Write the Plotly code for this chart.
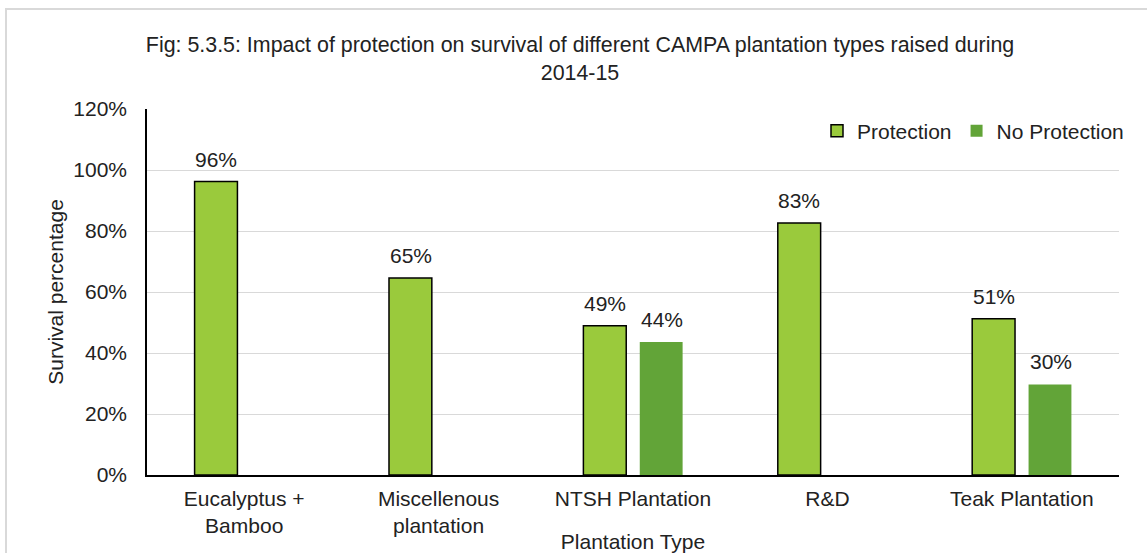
import plotly.graph_objects as go

categories = ["Eucalyptus +<br>Bamboo", "Miscellenous<br>plantation", "NTSH Plantation", "R&D", "Teak Plantation"]
protection = [96.2, 64.6, 48.9, 82.6, 51.2]
no_protection = [None, None, 43.6, None, 29.7]
y_ticks = [0, 20, 40, 60, 80, 100, 120]
y_tick_labels = ["0%", "20%", "40%", "60%", "80%", "100%", "120%"]

W, H = 1147, 553
L, R, T, B = 147, 28, 109, 78
pw, ph = W - L - R, H - T - B

font = "Liberation Sans, Arial, sans-serif"
FS = 21

fig = go.Figure()
fig.add_trace(go.Bar(
    name="Protection", x=categories, y=protection,
    marker=dict(color="#9ACA3C", line=dict(color="#000000", width=1.5)),
))
fig.add_trace(go.Bar(
    name="No Protection", x=categories, y=no_protection,
    marker=dict(color="#62A438", line=dict(width=0)),
))

annotations = []
for series, shift in ((protection, -28), (no_protection, 29)):
    for cat, v in zip(categories, series):
        if v is None:
            continue
        annotations.append(dict(
            x=cat, y=v, xref="x", yref="y", text=f"{v:.0f}%", showarrow=False,
            xanchor="center", yanchor="bottom", xshift=shift, yshift=9,
            font=dict(size=FS, color="#222222"),
        ))

fig.update_layout(
    width=W, height=H,
    margin=dict(l=L, r=R, t=T, b=B, autoexpand=False),
    paper_bgcolor="white", plot_bgcolor="white",
    barmode="group", bargap=0.42, bargroupgap=0.24,
    font=dict(family=font, size=FS, color="#222222"),
    title=dict(
        text="Fig: 5.3.5: Impact of protection on survival of different CAMPA plantation types raised during<br>2014-15",
        x=580 / W, xanchor="center", y=1 - 52 / H, yanchor="top", automargin=False,
        font=dict(size=21.4, color="#222222"),
    ),
    legend=dict(orientation="h", x=1.0 + 10 / pw, xanchor="right", y=(475 - 131) / ph, yanchor="middle",
                font=dict(size=FS), bgcolor="rgba(0,0,0,0)", traceorder="normal",
                itemwidth=30, entrywidthmode="pixels"),
    showlegend=True,
    annotations=annotations,
    shapes=[dict(type="rect", xref="paper", yref="paper",
                 x0=(6 - L) / pw, x1=(1160 - L) / pw, y0=(475 - 600) / ph, y1=(475 - 9) / ph,
                 line=dict(color="#D9D9D9", width=2), fillcolor="rgba(0,0,0,0)", layer="below")],
)
fig.update_xaxes(
    showline=True, linecolor="#000000", linewidth=1.5, ticks="", showgrid=False,
    tickfont=dict(size=FS), ticklabelstandoff=4, automargin=False,
    title=dict(text="Plantation Type", font=dict(size=FS), standoff=4),
)
fig.update_yaxes(
    range=[0, 120], tickvals=y_ticks, ticktext=y_tick_labels,
    showline=True, linecolor="#000000", linewidth=1.5, showgrid=True, gridcolor="#D9D9D9", gridwidth=1,
    zeroline=False, tickfont=dict(size=FS), ticks="", ticklabelstandoff=14, automargin=False,
    title=dict(text="Survival percentage", font=dict(size=FS), standoff=4),
)

fig.write_html("out.html", config={"displayModeBar": False},
               post_script="document.body.style.margin='0';")
